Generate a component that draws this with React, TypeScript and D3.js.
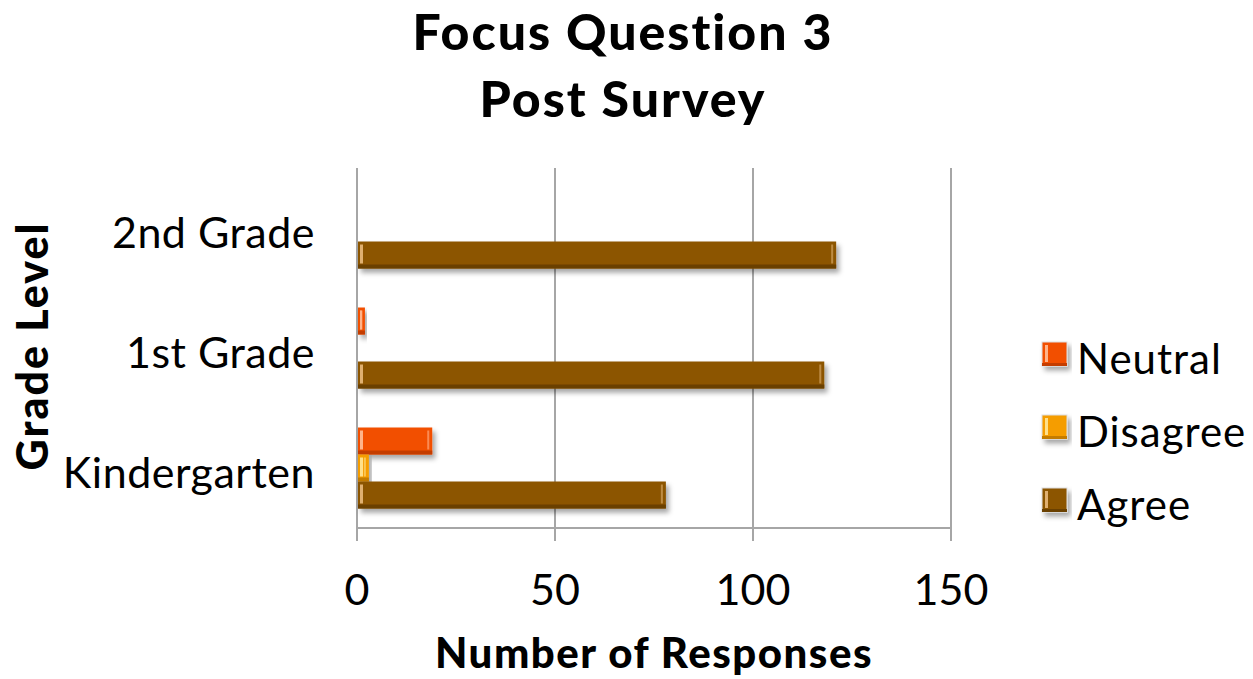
import { useEffect, useRef } from "react";
import * as d3 from "d3";

const grades = ["Kindergarten", "1st Grade", "2nd Grade"];
const seriesNames = ["Neutral", "Disagree", "Agree"];
const neutral = [19, 2, 0];
const disagree = [3, 0, 0];
const agree = [78, 118, 121];
const xTicks = [0, 50, 100, 150];

const colors = ["#F24F00", "#F59D00", "#8C5500"];
const darkEdges = ["#C43E00", "#C47C00", "#6A4000"];
const lightEdges = ["#FFB48A", "#FFE08A", "#E0B070"];

const FONT = "Lato, 'DejaVu Sans', sans-serif";

export default function App() {
  const ref = useRef<SVGSVGElement | null>(null);

  useEffect(() => {
    const W = 1253, H = 679;
    const left = 357, right = 951, top = 168, bottom = 528;

    const svg = d3.select(ref.current).attr("width", W).attr("height", H);
    svg.selectAll("*").remove();

    const defs = svg.append("defs");
    const f = defs.append("filter").attr("id", "shadow")
      .attr("x", "-10%").attr("y", "-30%").attr("width", "130%").attr("height", "180%");
    f.append("feDropShadow").attr("dx", 3).attr("dy", 4).attr("stdDeviation", 2.5)
      .attr("flood-color", "#000").attr("flood-opacity", 0.35);

    const x = d3.scaleLinear().domain([0, 150]).range([left, right]);
    const y = d3.scaleBand().domain(grades).range([bottom, top])
      .paddingInner(0.325).paddingOuter(0.1625);
    const ySub = d3.scaleBand().domain(seriesNames).range([0, y.bandwidth()]);

    const values = [neutral, disagree, agree];

    // gridlines (extend a little below the axis as tick marks)
    svg.append("g").selectAll("line").data(xTicks).enter().append("line")
      .attr("x1", d => x(d)).attr("x2", d => x(d))
      .attr("y1", top).attr("y2", bottom + 13)
      .attr("stroke", "#a6a6a6").attr("stroke-width", 2);

    svg.append("line").attr("x1", left).attr("x2", right)
      .attr("y1", bottom).attr("y2", bottom)
      .attr("stroke", "#a6a6a6").attr("stroke-width", 2);

    // bars
    const g = svg.append("g");
    grades.forEach((grade, gi) => {
      seriesNames.forEach((s, si) => {
        const v = values[si][gi];
        if (!v) return;
        const bx = x(0) + 1;
        const by = (y(grade) as number) + (ySub(s) as number);
        const bw = x(v) - x(0) - 1;
        const bh = ySub.bandwidth();
        const bar = g.append("g").attr("filter", "url(#shadow)");
        bar.append("rect").attr("x", bx).attr("y", by).attr("width", bw).attr("height", bh)
          .attr("fill", colors[si]);
        bar.append("rect").attr("x", bx).attr("y", by + bh - 4).attr("width", bw).attr("height", 4)
          .attr("fill", darkEdges[si]);
        bar.append("rect").attr("x", bx + 2).attr("y", by + 3).attr("width", Math.min(3, bw / 3)).attr("height", bh - 8)
          .attr("fill", lightEdges[si]);
        bar.append("rect").attr("x", bx + bw - 5).attr("y", by + 3).attr("width", Math.min(2, bw / 3)).attr("height", bh - 8)
          .attr("fill", lightEdges[si]).attr("opacity", 0.6);
      });
    });

    // x tick labels
    svg.append("g").selectAll("text").data(xTicks).enter().append("text")
      .attr("x", d => x(d)).attr("y", 605)
      .attr("text-anchor", "middle")
      .style("font-family", FONT).style("font-size", "43px").attr("fill", "#000")
      .text(d => d);

    // category labels
    svg.append("g").selectAll("text").data(grades).enter().append("text")
      .attr("x", 315).attr("y", d => (y(d) as number) + y.bandwidth() / 2 + 20)
      .attr("text-anchor", "end")
      .style("font-family", FONT).style("font-size", "43px").style("letter-spacing", "0.5px")
      .attr("fill", "#000")
      .text(d => d);

    // titles
    const title = svg.append("text").attr("text-anchor", "middle")
      .style("font-family", FONT).style("font-size", "50px").style("font-weight", "900")
      .style("letter-spacing", "2px");
    title.append("tspan").attr("x", 623).attr("y", 50).text("Focus Question 3");
    title.append("tspan").attr("x", 623).attr("y", 117).text("Post Survey");

    svg.append("text").attr("x", 654).attr("y", 668).attr("text-anchor", "middle")
      .style("font-family", FONT).style("font-size", "42px").style("font-weight", "900")
      .style("letter-spacing", "1.5px")
      .text("Number of Responses");

    svg.append("text").attr("transform", "translate(48,346) rotate(-90)")
      .attr("text-anchor", "middle")
      .style("font-family", FONT).style("font-size", "43px").style("font-weight", "900")
      .style("letter-spacing", "2px")
      .text("Grade Level");

    // legend
    const leg = svg.append("g");
    seriesNames.forEach((s, i) => {
      const cy = 354 + i * 73;
      const item = leg.append("g").attr("filter", "url(#shadow)");
      item.append("rect").attr("x", 1042).attr("y", cy - 12).attr("width", 25).attr("height", 24)
        .attr("fill", colors[i]).attr("stroke", "#ddd").attr("stroke-width", 1);
      item.append("rect").attr("x", 1042).attr("y", cy + 9).attr("width", 25).attr("height", 3)
        .attr("fill", darkEdges[i]);
      item.append("rect").attr("x", 1045).attr("y", cy - 9).attr("width", 3).attr("height", 17)
        .attr("fill", lightEdges[i]);
      leg.append("text").attr("x", 1077).attr("y", cy + 20)
        .style("font-family", FONT).style("font-size", "42px").style("letter-spacing", "1px")
        .attr("fill", "#000")
        .text(s);
    });
  }, []);

  return (
    <div style={{ position: "absolute", left: 0, top: 0, background: "#fff" }}>
      <svg ref={ref}></svg>
    </div>
  );
}
